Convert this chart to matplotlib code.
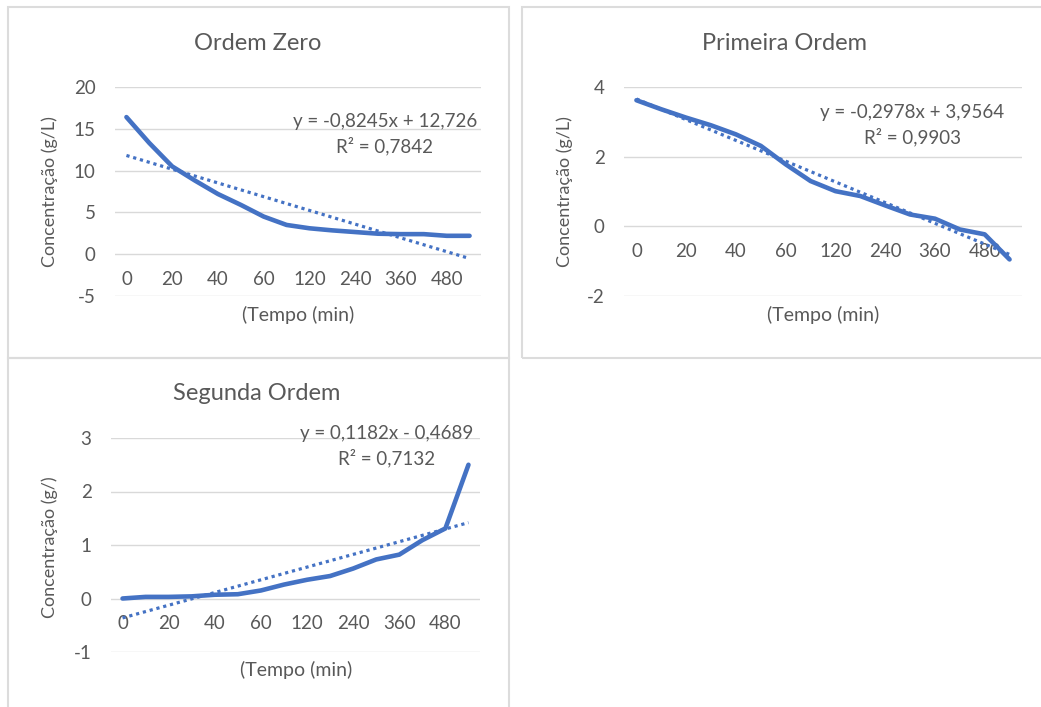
import matplotlib.pyplot as plt
import numpy as np
from matplotlib.patches import Rectangle

plt.rcParams['font.family'] = ['Lato', 'DejaVu Sans']
plt.rcParams['axes.unicode_minus'] = False

# tempo (min) - one category per point, Excel shows every other label
tempo = [0, 10, 20, 30, 40, 50, 60, 90, 120, 180, 240, 300, 360, 420, 480, 540]

# values
ordem_zero = [16.4, 13.3, 10.5, 8.8, 7.2, 5.9, 4.5, 3.5, 3.1, 2.85,
              2.65, 2.45, 2.4, 2.4, 2.2, 2.2]
primeira_ordem = [3.62, 3.36, 3.12, 2.90, 2.64, 2.31, 1.78, 1.30, 1.01, 0.87,
                  0.60, 0.34, 0.22, -0.09, -0.23, -0.95]
segunda_ordem = [0.0, 0.03, 0.03, 0.04, 0.07, 0.08, 0.15, 0.26, 0.35, 0.42,
                 0.56, 0.73, 0.82, 1.09, 1.31, 2.50]

titulos = ['Ordem Zero', 'Primeira Ordem', 'Segunda Ordem']
ylabels = ['Concentração (g/L)', 'Concentração (g/L)', 'Concentração (g/)']
equacoes = ['y = -0,8245x + 12,726\nR² = 0,7842',
            'y = -0,2978x + 3,9564\nR² = 0,9903',
            'y = 0,1182x - 0,4689\nR² = 0,7132']
yticks = [[-5, 0, 5, 10, 15, 20], [-2, 0, 2, 4], [-1, 0, 1, 2, 3]]

W, H = 1041, 707
BLUE = '#4472C4'
GRAY = '#595959'
GRID = '#d9d9d9'


def fx(px):
    return px / W


def fy(py):
    return 1 - py / H


fig = plt.figure(figsize=(W / 100, H / 100), dpi=100)

# chart area borders (px: left, top, right, bottom)
for l, t, r, b in [(8, 7, 509, 358), (522, 7, 1045, 358), (8, 358, 509, 712)]:
    fig.add_artist(Rectangle((fx(l), fy(b)), fx(r - l), (b - t) / H,
                             transform=fig.transFigure, fill=False,
                             edgecolor='#dcdcdc', lw=1.5, zorder=0))

# plot areas (px: left, top, right, bottom)
areas = [(115, 87, 481, 296), (624, 87, 1022, 296), (111, 438, 480, 652)]
# text positions (px)
title_pos = [(258, 44), (785, 43), (257, 394)]
ylab_pos = [(50, 192), (565, 192), (50, 547)]
xlab_pos = [(298, 315), (823, 315), (296, 670)]
eq_pos = [(385, 134), (912, 125), (387, 446)]

series = [ordem_zero, primeira_ordem, segunda_ordem]
x = np.arange(1, len(tempo) + 1)
labels = [str(t) if i % 2 == 0 else '' for i, t in enumerate(tempo)]

for k in range(3):
    l, t, r, b = areas[k]
    ax = fig.add_axes([fx(l), fy(b), fx(r - l), (b - t) / H])
    y = np.array(series[k])
    ax.plot(x, y, color=BLUE, lw=3.3, solid_capstyle='round',
            solid_joinstyle='round', zorder=3)
    m, c = np.polyfit(x, y, 1)
    ax.plot(x, m * x + c, color=BLUE, lw=2.3, linestyle=(0, (1, 1.2)),
            zorder=4)

    ax.set_xlim(0.5, len(tempo) + 0.5)
    ax.set_ylim(yticks[k][0], yticks[k][-1])
    ax.set_yticks(yticks[k])
    ax.set_xticks(x)
    ax.set_xticklabels(labels)
    ax.grid(axis='y', color=GRID, lw=1.0)
    ax.set_axisbelow(True)
    for s in ax.spines.values():
        s.set_visible(False)
    ax.spines['bottom'].set_position(('data', 0))
    ax.tick_params(axis='both', length=0, colors=GRAY, labelsize=13.5)
    ax.tick_params(axis='y', pad=14)
    ax.tick_params(axis='x', pad=12)
    ax.patch.set_alpha(0)

    fig.text(fx(title_pos[k][0]), fy(title_pos[k][1]), titulos[k],
             ha='center', va='center', fontsize=17, color=GRAY)
    fig.text(fx(ylab_pos[k][0]), fy(ylab_pos[k][1]), ylabels[k],
             ha='center', va='center', rotation=90, fontsize=13, color=GRAY)
    fig.text(fx(xlab_pos[k][0]), fy(xlab_pos[k][1]), '(Tempo (min)',
             ha='center', va='center', fontsize=14, color=GRAY)
    fig.text(fx(eq_pos[k][0]), fy(eq_pos[k][1]), equacoes[k],
             ha='center', va='center', fontsize=13.5, color=GRAY,
             linespacing=1.45)

fig.savefig('out.png', dpi=100)
